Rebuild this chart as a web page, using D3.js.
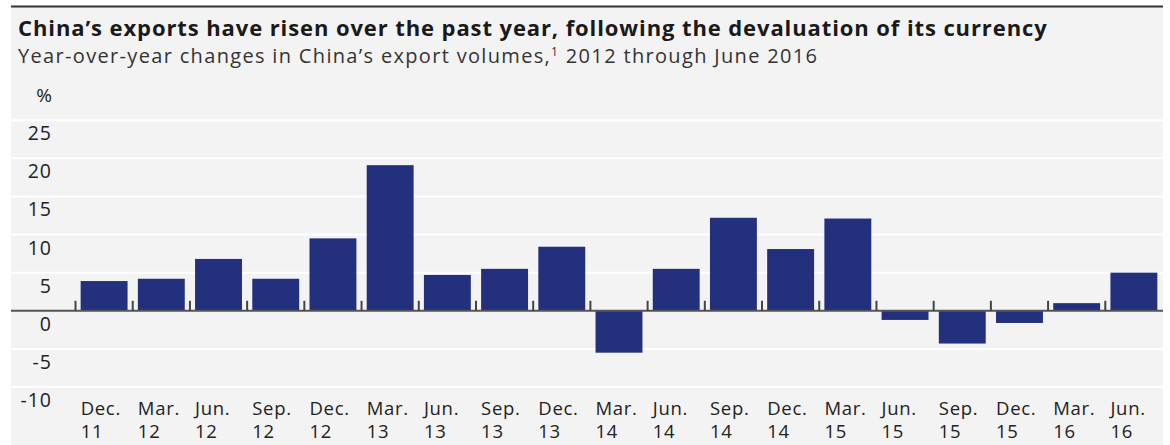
<!DOCTYPE html>
<html>
<head>
<meta charset="utf-8">
<script src="https://cdn.jsdelivr.net/npm/d3@7"></script>
<style>
  body { margin: 0; background: #fff; }
  text { font-family: "Open Sans", sans-serif; fill: #222; }
</style>
</head>
<body>
<div id="chart"></div>
<script>
// quarter labels (two lines) and year-over-year change, %
const months = ["Dec.", "Mar.", "Jun.", "Sep.", "Dec.", "Mar.", "Jun.", "Sep.", "Dec.", "Mar.",
  "Jun.", "Sep.", "Dec.", "Mar.", "Jun.", "Sep.", "Dec.", "Mar.", "Jun."];
const years = ["11", "12", "12", "12", "12", "13", "13", "13", "13", "14",
  "14", "14", "14", "15", "15", "15", "15", "16", "16"];
const values = [3.9, 4.2, 6.8, 4.2, 9.5, 19.1, 4.7, 5.5, 8.4, -5.5,
  5.5, 12.2, 8.1, 12.1, -1.2, -4.3, -1.6, 1.0, 5.0];
const yTicks = [-10, -5, 0, 5, 10, 15, 20, 25];

const W = 1170, H = 445;
const panelLeft = 11, panelRight = 1163;

const data = values.map((v, i) => ({ key: i, month: months[i], year: years[i], value: v }));

const svg = d3.select("#chart")
  .append("svg")
  .attr("width", W)
  .attr("height", H);

// grey panel + top rule
svg.append("rect")
  .attr("x", panelLeft)
  .attr("y", 7)
  .attr("width", panelRight - panelLeft)
  .attr("height", H - 7)
  .attr("fill", "#f3f3f3");

svg.append("line")
  .attr("x1", panelLeft).attr("x2", panelRight)
  .attr("y1", 6.5).attr("y2", 6.5)
  .attr("stroke", "#333")
  .attr("stroke-width", 2);

svg.append("text")
  .attr("x", 18)
  .attr("y", 36)
  .style("font-size", "22px")
  .style("font-weight", "bold")
  .style("letter-spacing", "0.9px")
  .style("fill", "#1a1a1a")
  .text("China’s exports have risen over the past year, following the devaluation of its currency");

const sub = svg.append("text")
  .attr("x", 18)
  .attr("y", 63)
  .style("font-size", "20px")
  .style("letter-spacing", "1.33px")
  .style("fill", "#333");
sub.append("tspan").text("Year-over-year changes in China’s export volumes,");
sub.append("tspan").attr("dy", -7).style("font-size", "12px").text("1");
sub.append("tspan").attr("dy", 7).text(" 2012 through June 2016");

const x = d3.scaleBand()
  .domain(data.map(d => d.key))
  .range([75.5, 1162.5])
  .paddingInner(0.18)
  .paddingOuter(0.09);

const y = d3.scaleLinear()
  .domain([-10, 25])
  .range([387, 120.2]);

// gridlines
svg.append("g")
  .selectAll("line")
  .data(yTicks.filter(t => t !== 0))
  .enter()
  .append("line")
  .attr("x1", panelLeft)
  .attr("x2", panelRight)
  .attr("y1", d => y(d))
  .attr("y2", d => y(d))
  .attr("stroke", "#fff")
  .attr("stroke-width", 2);

// y labels hang just below their line
svg.append("g")
  .selectAll("text")
  .data(yTicks)
  .enter()
  .append("text")
  .attr("x", 52)
  .attr("y", d => y(d) + 20)
  .attr("text-anchor", "end")
  .style("font-size", "19.5px")
  .style("letter-spacing", "1px")
  .text(d => d);

svg.append("text")
  .attr("x", 52)
  .attr("y", 102)
  .attr("text-anchor", "end")
  .style("font-size", "19px")
  .text("%");

// bars
svg.append("g")
  .selectAll("rect")
  .data(data)
  .enter()
  .append("rect")
  .attr("x", d => x(d.key))
  .attr("width", x.bandwidth())
  .attr("y", d => y(Math.max(0, d.value)))
  .attr("height", d => Math.abs(y(d.value) - y(0)))
  .attr("fill", "#22307e");

// zero axis + category ticks
svg.append("line")
  .attr("x1", panelLeft).attr("x2", panelRight)
  .attr("y1", y(0)).attr("y2", y(0))
  .attr("stroke", "#555")
  .attr("stroke-width", 2);

const gap = x.step() * x.paddingOuter();
svg.append("g")
  .selectAll("line")
  .data(data)
  .enter()
  .append("line")
  .attr("x1", d => x(d.key) - gap)
  .attr("x2", d => x(d.key) - gap)
  .attr("y1", y(0) - 10)
  .attr("y2", y(0))
  .attr("stroke", "#444")
  .attr("stroke-width", 2);

// x labels, two lines, aligned with bar start
const xg = svg.append("g")
  .style("font-size", "18.5px")
  .style("letter-spacing", "0.7px");
xg.selectAll("text.m")
  .data(data)
  .enter()
  .append("text")
  .attr("class", "m")
  .attr("x", d => x(d.key))
  .attr("y", 415)
  .text(d => d.month);
xg.selectAll("text.yr")
  .data(data)
  .enter()
  .append("text")
  .attr("class", "yr")
  .attr("x", d => x(d.key))
  .attr("y", 438)
  .text(d => d.year);
</script>
</body>
</html>
